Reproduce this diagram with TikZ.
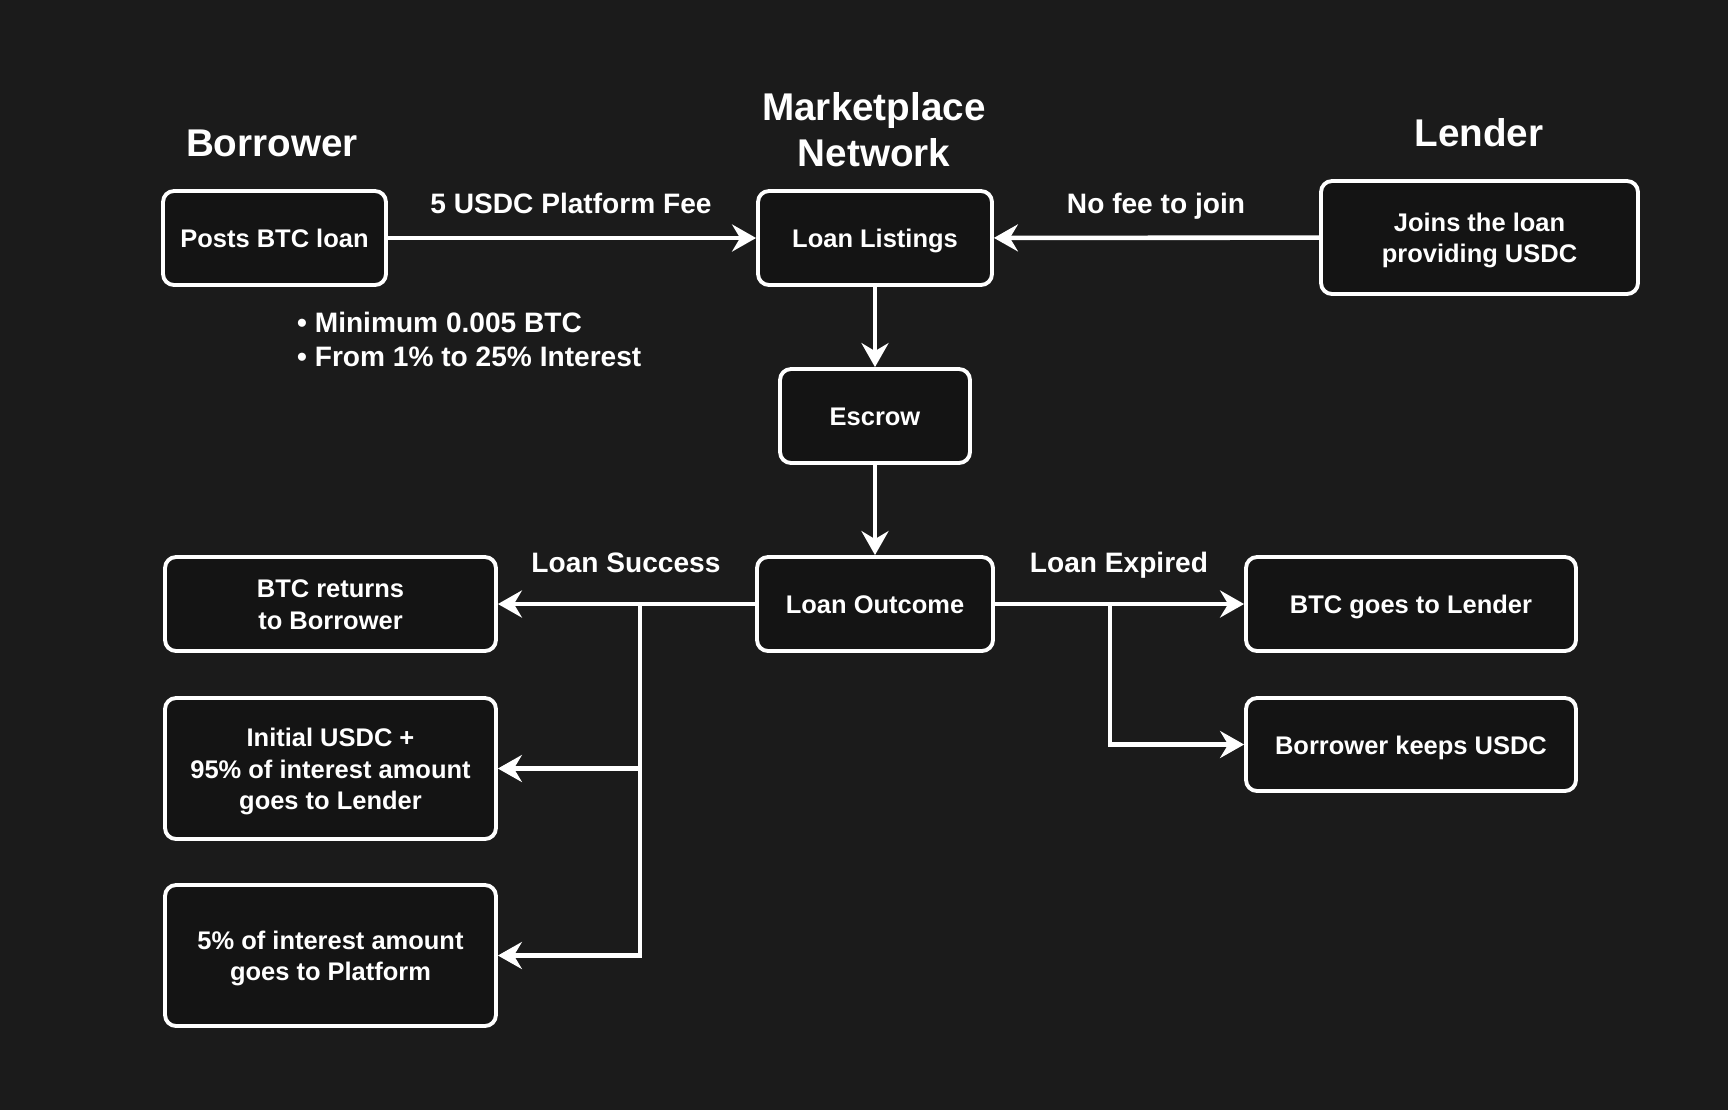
\documentclass[tikz,border=0pt]{standalone}
\usepackage{fontspec}
\setmainfont{Liberation Sans}
\usepackage{tikz}
\usetikzlibrary{arrows.meta, positioning}
\definecolor{bgdark}{HTML}{1B1B1B}
\definecolor{boxdark}{HTML}{141414}
\newcommand{\lift}[1]{\rule{0pt}{#1}}
\tikzset{>={Stealth[length=0.48cm, width=0.54cm, inset=0.16cm]}}
\tikzset{
  box/.style={draw=white, fill=boxdark, line width=2.2pt, rounded corners=0.22cm, align=center, text=white, inner sep=2pt,
    font=\bfseries\fontsize{14.5}{18}\selectfont, execute at begin node=\lift{16.4pt}, execute at end node=\strut},
  ttl/.style={text=white, align=center, font=\bfseries\fontsize{22}{26}\selectfont},
  lbl/.style={text=white, align=left, font=\bfseries\fontsize{16}{19.3}\selectfont, execute at begin node=\lift{17.9pt}, execute at end node=\strut},
  flow/.style={->, white, line width=2.6pt}
}

\begin{document}
\begin{tikzpicture}[x=0.02cm, y=-0.02cm]
	\fill[bgdark](0,0) rectangle (1728,1110);
	\useasboundingbox (0,0) rectangle (1728,1110);

% titles
\node[ttl](borrower) at (272,143){Borrower};
\node[ttl](market) at (874,130){Marketplace\\Network};
\node[ttl](lender) at (1479,133){Lender};

% boxes
\node[box, minimum width=4.46cm, minimum height=1.88cm](post) at (274.5,238){Posts BTC loan};
\node[box, minimum width=4.68cm, minimum height=1.88cm](listings) at (875,238){Loan Listings};
\node[box, minimum width=6.34cm, minimum height=2.26cm](joins) at (1479.5,237.5){\lift{16.4pt}Joins the loan\\providing USDC};
\node[box, minimum width=3.8cm, minimum height=1.88cm](escrow) at (875,416){Escrow};
\node[box, minimum width=4.72cm, minimum height=1.88cm](outcome) at (875,604){Loan Outcome};
\node[box, minimum width=6.62cm, minimum height=1.88cm](btcret) at (330.5,604){\lift{16.4pt}BTC returns\\to Borrower};
\node[box, minimum width=6.62cm, minimum height=2.82cm](initial) at (330.5,768.5){\lift{16.4pt}Initial USDC +\\95\% of interest amount\\goes to Lender};
\node[box, minimum width=6.62cm, minimum height=2.82cm](platform) at (330.5,955.5){\lift{16.4pt}5\% of interest amount\\goes to Platform};
\node[box, minimum width=6.6cm, minimum height=1.88cm](btclend) at (1411,604){BTC goes to Lender};
\node[box, minimum width=6.6cm, minimum height=1.86cm](keeps) at (1411,744.5){Borrower keeps USDC};

% labels
\node[lbl](fee) at (571,203){5 USDC Platform Fee};
\node[lbl](nofee) at (1156,203){No fee to join};
\node[lbl, anchor=west](terms) at (291,339){\lift{17.9pt}\textbullet\ Minimum 0.005 BTC\\\textbullet\ From 1\% to 25\% Interest};
\node[lbl](success) at (626,562){Loan Success};
\node[lbl](expired) at (1119,562){Loan Expired};

% connectors
\draw[flow](post)--(listings);
\draw[flow](joins)--(listings);
\draw[flow](listings)--(escrow);
\draw[flow](escrow)--(outcome);

\coordinate(split) at (640,604);
\draw[flow](outcome)--(btcret);
\draw[flow](split)|-(initial);
\draw[flow](split)|-(platform);

\coordinate(expsplit) at (1110,604);
\draw[flow](outcome)--(btclend);
\draw[flow](expsplit)|-(keeps);

\end{tikzpicture}
\end{document}
